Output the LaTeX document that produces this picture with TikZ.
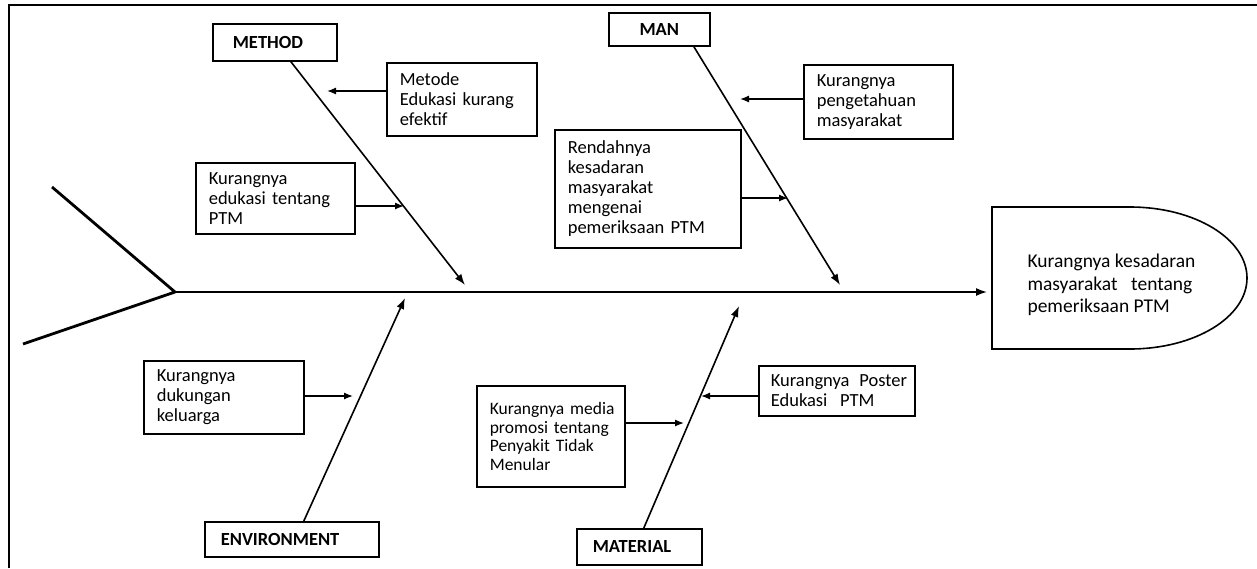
\documentclass[tikz,border=0pt]{standalone}
\usepackage{fontspec}
\setmainfont{Carlito}
\usetikzlibrary{arrows.meta}
\newcommand{\nohyph}{\hyphenpenalty=10000\relax}

\begin{document}
\begin{tikzpicture}[x = 1pt, y = -1pt,
		box/.style = {draw, line width = 1.6pt, anchor = north west, align = left, inner xsep = 13pt, inner ysep = 0pt, font = \fontsize{18.5}{20}\selectfont\nohyph},
		catbox/.style = {draw, line width = 1.6pt, anchor = north west, align = left, inner xsep = 16pt, inner ysep = 0pt, font = \fontsize{18.5}{20}\selectfont\bfseries},
		bone/.style = {line width = 1.6pt, -{Latex[length = 11pt, width = 8pt]}},
		cause/.style = {line width = 1.3pt, -{Latex[length = 9pt, width = 7pt]}}]
	\useasboundingbox (0, 0) rectangle (1257, 568);
	\draw[line width = 2.5pt] (9, 568) -- (9, 5) -- (1257, 5);

	% head and spine
	\draw[line width = 1.6pt] (992, 207) -- (1130, 207) arc[start angle = 90, end angle = -90, x radius = 117pt, y radius = 71pt] -- (992, 349) -- cycle;
		\node[anchor = west, align = left, font = \fontsize{19.5}{22.5}\selectfont] (effect) at (1024, 285) {Kurangnya kesadaran\\masyarakat\hspace{0.7em}tentang\\pemeriksaan PTM};
	\coordinate (tail) at (175, 292);
	\coordinate (tailtop) at (52, 187);
	\coordinate (tailbot) at (23, 344);
	\coordinate (head) at (987, 292);
	\draw[line width = 2.8pt] (tailtop) -- (tail) -- (tailbot);
	\draw[bone] (tail) -- (head);

	% categories
	\node[catbox, inner xsep = 20pt, text width = 84pt, minimum height = 37pt] (method) at (212, 23) {METHOD};
	\node[catbox, align = center, text width = 69pt, minimum height = 33pt] (man) at (608, 12) {MAN};
	\node[catbox, text width = 142pt, minimum height = 35pt] (environment) at (204, 521) {ENVIRONMENT};
	\node[catbox, text width = 93pt, minimum height = 36pt] (material) at (576, 528) {MATERIAL};
	\coordinate (methodtip) at (465, 285);
	\coordinate (mantip) at (840, 285);
	\coordinate (envtip) at (405, 298);
	\coordinate (mattip) at (739, 306);
	\draw[bone] ([xshift = 16pt]method.south) -- (methodtip);
	\draw[bone] ([xshift = 34.5pt]man.south) -- (mantip);
	\draw[bone] ([xshift = 12pt]environment.north) -- (envtip);
	\draw[bone] ([xshift = 4.5pt]material.north) -- (mattip);

	% causes
	\node[box, text width = 124pt, minimum height = 73pt] (metode) at (386, 62) {Metode\\Edukasi~kurang\\efektif};
	\node[box, text width = 133pt, minimum height = 71pt] (edukasi) at (195, 162) {Kurangnya\\edukasi~tentang\\PTM};
	\node[box, text width = 123pt, minimum height = 74pt] (pengetahuan) at (803, 64) {Kurangnya\\pengetahuan\\masyarakat};
	\node[box, text width = 160pt, minimum height = 118pt] (kesadaran) at (554, 129) {Rendahnya\\kesadaran\\masyarakat\\mengenai\\pemeriksaan~PTM};
	\node[box, text width = 134pt, minimum height = 73pt] (dukungan) at (143, 360) {Kurangnya\\dukungan\\keluarga};
	\node[box, text width = 122pt, minimum height = 101pt, font = \fontsize{17.5}{18.5}\selectfont\nohyph] (media) at (476, 385) {Kurangnya~media\\promosi~tentang\\Penyakit~Tidak\\Menular};
	\node[box, text width = 132pt, minimum height = 50pt, inner xsep = 12pt] (poster) at (758, 365) {Kurangnya~\kern0.2em Poster\\Edukasi~\kern0.35em PTM};
	\coordinate (metodetip) at (327, 91);
	\coordinate (edukasitip) at (404, 206);
	\coordinate (pengetahuantip) at (740, 99);
	\coordinate (kesadarantip) at (788, 198);
	\coordinate (dukungantip) at (353, 396);
	\coordinate (mediatip) at (684, 423);
	\coordinate (postertip) at (701, 396);
	\draw[cause] (metode.west |- metodetip) -- (metodetip);
	\draw[cause] (edukasi.east |- edukasitip) -- (edukasitip);
	\draw[cause] (pengetahuan.west |- pengetahuantip) -- (pengetahuantip);
	\draw[cause] (kesadaran.east |- kesadarantip) -- (kesadarantip);
	\draw[cause] (dukungan.east |- dukungantip) -- (dukungantip);
	\draw[cause] (media.east |- mediatip) -- (mediatip);
	\draw[cause] (poster.west |- postertip) -- (postertip);
\end{tikzpicture}
\end{document}
